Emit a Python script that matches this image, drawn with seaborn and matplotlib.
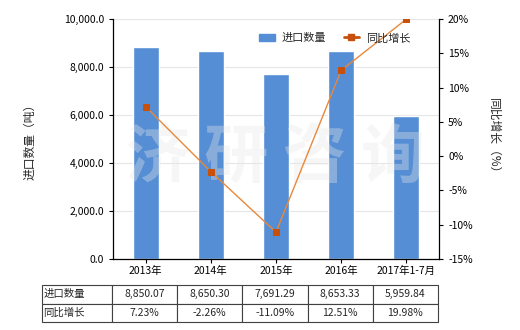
import matplotlib
matplotlib.use("Agg")
import matplotlib.pyplot as plt
import seaborn as sns
import numpy as np
import pandas as pd
from matplotlib.ticker import FuncFormatter, MultipleLocator
from matplotlib.patches import Patch
from matplotlib.lines import Line2D

categories = ["2013年", "2014年", "2015年", "2016年", "2017年1-7月"]
import_qty = [8850.07, 8650.30, 7691.29, 8653.33, 5959.84]
yoy_growth = [7.23, -2.26, -11.09, 12.51, 19.98]
qty_labels = ["8,850.07", "8,650.30", "7,691.29", "8,653.33", "5,959.84"]
growth_labels = ["7.23%", "-2.26%", "-11.09%", "12.51%", "19.98%"]

sns.set_theme(style="white")
plt.rcParams['font.family'] = ['Noto Sans CJK SC', 'DejaVu Sans']
plt.rcParams['axes.unicode_minus'] = False

df = pd.DataFrame({"cat": categories, "qty": import_qty, "pos": np.arange(len(categories)), "yoy": yoy_growth})

fig = plt.figure(figsize=(5.2, 3.3), dpi=100)
ax = fig.add_axes([113/520, 1-259/330, 326/520, 240/330])

sns.barplot(data=df, x="cat", y="qty", color="#558ED5", saturation=1, width=0.4, ax=ax, zorder=2)
ax.set_ylim(0, 10000)
ax.set_xlim(-0.5, 4.5)
ax.yaxis.set_major_locator(MultipleLocator(2000))
ax.yaxis.set_major_formatter(FuncFormatter(lambda v, p: f"{v:,.1f}"))
ax.grid(axis="y", color="#e6e6e6", lw=0.8, zorder=0)
ax.set_axisbelow(True)
ax.set_xlabel("")
ax.set_ylabel("进口数量（吨）", fontsize=8.5, labelpad=20)
for s in ["top", "right"]:
    ax.spines[s].set_visible(False)
for s in ["left", "bottom"]:
    ax.spines[s].set_color("black")
    ax.spines[s].set_linewidth(0.9)
ax.tick_params(axis="both", labelsize=7.5, colors="black", length=3, width=0.8, direction="out")
ax.tick_params(axis="x", length=3, pad=2)
ax.tick_params(left=True, bottom=True)

ax2 = ax.twinx()
sns.lineplot(data=df, x="pos", y="yoy", ax=ax2, color="#E8883A", lw=1, marker="s",
             markersize=5, markerfacecolor="#C8500A", markeredgecolor="#C8500A", zorder=3)
ax2.set_ylim(-15, 20)
ax2.yaxis.set_major_locator(MultipleLocator(5))
ax2.yaxis.set_major_formatter(FuncFormatter(lambda v, p: f"{v:.0f}%"))
ax2.set_ylabel("同比增长（%）", fontsize=8.5, rotation=-90, labelpad=20)
ax2.set_xlabel("")
for s in ["top", "left", "bottom"]:
    ax2.spines[s].set_visible(False)
ax2.spines["right"].set_color("black")
ax2.spines["right"].set_linewidth(0.9)
ax2.tick_params(axis="y", labelsize=7.5, colors="black", length=3, width=0.8, direction="out", right=True)
ax2.set_xlim(-0.5, 4.5)

# watermark
ax.text(0.5, 0.42, "济 研 咨 询", transform=ax.transAxes, fontsize=46, color="#e8e8e8",
        alpha=0.35, ha="center", va="center", fontweight="bold", zorder=5)

# legend
handles = [Patch(color="#558ED5", label="进口数量"),
           Line2D([0], [0], color="#C8500A", lw=2, marker="s", markersize=4, label="同比增长")]
ax2.legend(handles=handles, loc="center", bbox_to_anchor=(0.68, 0.92), ncol=2, frameon=False,
           fontsize=8, handlelength=1.4, columnspacing=1.6, handletextpad=0.6)

# data table
cell_text = [["进口数量"] + qty_labels, ["同比增长"] + growth_labels]
tab = ax.table(cellText=cell_text, cellLoc="center",
               bbox=[(42-113)/326, (259-322)/240, (438-42)/326, (322-285)/240],
               colWidths=[70] + [65.2]*5)
tab.auto_set_font_size(False)
tab.set_fontsize(7.5)
for (r, c), cell in tab.get_celld().items():
    cell.set_edgecolor("#404040")
    cell.set_linewidth(0.8)
    if c == 0:
        cell.set_text_props(ha="left")
        cell._loc = "left"
        cell.PAD = 0.02

fig.savefig("out.png", dpi=100)
